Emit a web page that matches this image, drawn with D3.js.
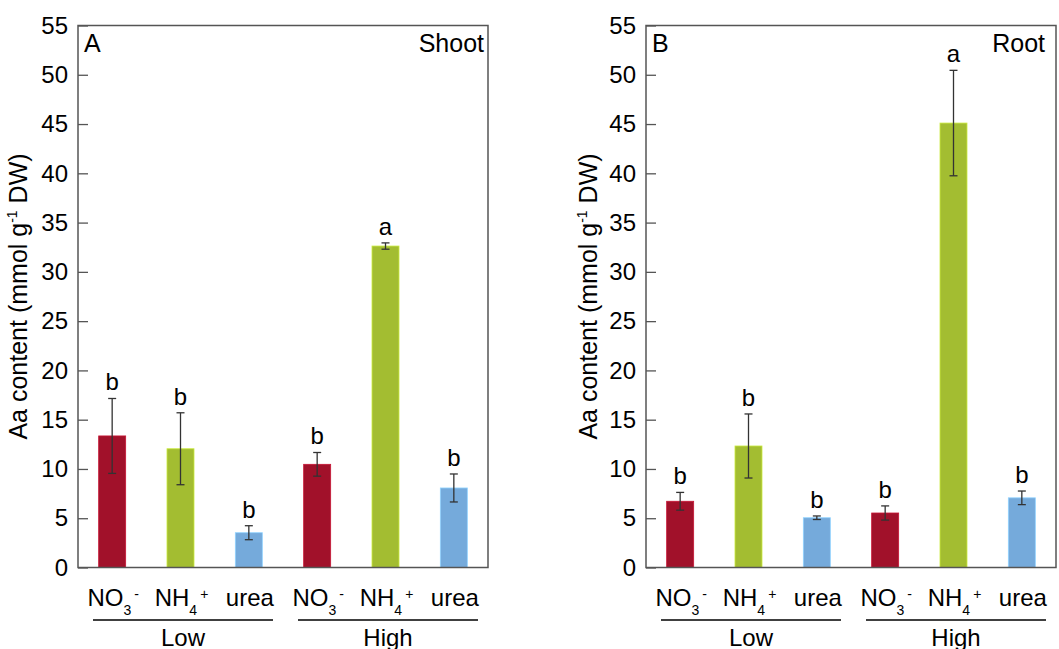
<!DOCTYPE html>
<html>
<head>
<meta charset="utf-8">
<script src="https://cdn.jsdelivr.net/npm/d3@7"></script>
<style>
  body { margin: 0; background: #fff; }
  svg { display: block; font-family: "Liberation Sans", Arial, sans-serif; }
</style>
</head>
<body>
<svg id="chart" width="1059" height="649"></svg>
<script>
// Nitrogen sources (label parts: base text, subscript, superscript)
const ionBase = ["NO", "NH", "urea"];
const ionSub = ["3", "4", ""];
const ionSup = ["-", "+", ""];
const levels = ["Low", "High"];
const treatments = ["Low-NO3", "Low-NH4", "Low-urea", "High-NO3", "High-NH4", "High-urea"];
const barColors = ["#a1112a", "#a3bd31", "#75aadb"];

// Amino acid content, mmol g-1 DW (mean and error)
const shootMeans = [13.35, 12.05, 3.53, 10.47, 32.62, 8.07];
const shootErr = [3.8, 3.65, 0.71, 1.2, 0.32, 1.42];
const shootLetters = ["b", "b", "b", "b", "a", "b"];
const rootMeans = [6.72, 12.33, 5.05, 5.53, 45.1, 7.07];
const rootErr = [0.9, 3.25, 0.18, 0.72, 5.35, 0.69];
const rootLetters = ["b", "b", "b", "b", "a", "b"];

const yTicks = [0, 5, 10, 15, 20, 25, 30, 35, 40, 45, 50, 55];

const panels = [
  { tag: "A", organ: "Shoot", means: shootMeans, err: shootErr, letters: shootLetters, left: 78, organPad: 4, titleGap: 51 },
  { tag: "B", organ: "Root", means: rootMeans, err: rootErr, letters: rootLetters, left: 646, organPad: 11, titleGap: 49 }
];

const svg = d3.select("#chart");
const plotTop = 25.5, plotBottom = 567.5, plotWidth = 410;
const barW = 27;
const frameColor = "#555";
const labelSize = 24;
const headSize = 25;

const y = d3.scaleLinear().domain([0, 55]).range([plotBottom, plotTop]);

panels.forEach(p => {
  const x = d3.scaleBand().domain(treatments).range([p.left, p.left + plotWidth]).padding(0);
  const cx = d => x(d) + x.bandwidth() / 2;
  const g = svg.append("g");

  // bars
  g.selectAll("rect.bar").data(treatments).join("rect")
    .attr("class", "bar")
    .attr("x", d => cx(d) - barW / 2)
    .attr("width", barW)
    .attr("y", (d, i) => y(p.means[i]))
    .attr("height", (d, i) => y(0) - y(p.means[i]))
    .attr("fill", (d, i) => barColors[i % 3])
    .attr("stroke", (d, i) => d3.color(barColors[i % 3]).brighter(0.6))
    .attr("stroke-width", 0.8);

  // error bars
  const eb = g.selectAll("g.err").data(treatments).join("g").attr("class", "err")
    .attr("stroke", "#333").attr("stroke-width", 1.3);
  eb.append("line")
    .attr("x1", d => cx(d)).attr("x2", d => cx(d))
    .attr("y1", (d, i) => y(p.means[i] + p.err[i]))
    .attr("y2", (d, i) => y(p.means[i] - p.err[i]));
  eb.append("line")
    .attr("x1", d => cx(d) - 4).attr("x2", d => cx(d) + 4)
    .attr("y1", (d, i) => y(p.means[i] + p.err[i]))
    .attr("y2", (d, i) => y(p.means[i] + p.err[i]));
  eb.append("line")
    .attr("x1", d => cx(d) - 4).attr("x2", d => cx(d) + 4)
    .attr("y1", (d, i) => y(p.means[i] - p.err[i]))
    .attr("y2", (d, i) => y(p.means[i] - p.err[i]));

  // significance letters
  g.selectAll("text.sig").data(treatments).join("text")
    .attr("class", "sig")
    .attr("x", d => cx(d))
    .attr("y", (d, i) => y(p.means[i] + p.err[i]) - 8)
    .attr("text-anchor", "middle")
    .attr("font-size", labelSize)
    .text((d, i) => p.letters[i]);

  // y axis with inward ticks
  const ax = g.append("g")
    .attr("transform", `translate(${p.left},0)`)
    .call(d3.axisLeft(y).tickValues(yTicks).tickSize(-10).tickPadding(10));
  ax.select(".domain").remove();
  ax.attr("font-family", null).attr("font-size", null);
  ax.selectAll(".tick line").attr("stroke", frameColor).attr("stroke-width", 1.3);
  ax.selectAll(".tick text").attr("font-size", 24).attr("fill", "#000");

  // frame
  g.append("rect")
    .attr("x", p.left).attr("y", plotTop)
    .attr("width", plotWidth).attr("height", plotBottom - plotTop)
    .attr("fill", "none").attr("stroke", frameColor).attr("stroke-width", 1.5);

  // panel tag and organ
  g.append("text").attr("x", p.left + 6).attr("y", 52)
    .attr("font-size", headSize).text(p.tag);
  g.append("text").attr("x", p.left + plotWidth - p.organPad).attr("y", 52)
    .attr("text-anchor", "end").attr("font-size", headSize).text(p.organ);

  // y title
  const t = g.append("text")
    .attr("transform", `translate(${p.left - p.titleGap},${(plotTop + plotBottom) / 2}) rotate(-90)`)
    .attr("text-anchor", "middle")
    .attr("font-size", headSize);
  t.append("tspan").text("Aa content (mmol g");
  t.append("tspan").attr("font-size", 14).attr("dy", -10).text("-1");
  t.append("tspan").attr("dy", 10).text(" DW)");

  // x category labels
  treatments.forEach((d, i) => {
    const k = i % 3;
    const lab = g.append("text")
      .attr("x", cx(d) + 1).attr("y", 606)
      .attr("text-anchor", "middle")
      .attr("font-size", labelSize);
    lab.append("tspan").text(ionBase[k]);
    if (ionSub[k]) {
      lab.append("tspan").attr("font-size", 14).attr("dy", 9).text(ionSub[k]);
      lab.append("tspan").attr("font-size", 14).attr("dx", 3).attr("dy", -16).text(ionSup[k]);
    }
  });

  // group lines and level labels
  levels.forEach((lv, j) => {
    const first = treatments[j * 3], last = treatments[j * 3 + 2];
    const x1 = x(first) + 15, x2 = x(last) + x.bandwidth() - 10;
    g.append("line")
      .attr("x1", x1).attr("x2", x2).attr("y1", 620).attr("y2", 620)
      .attr("stroke", "#000").attr("stroke-width", 1.3);
    g.append("text")
      .attr("x", (x1 + x2) / 2).attr("y", 646)
      .attr("text-anchor", "middle").attr("font-size", labelSize)
      .text(lv);
  });
});
</script>
</body>
</html>
